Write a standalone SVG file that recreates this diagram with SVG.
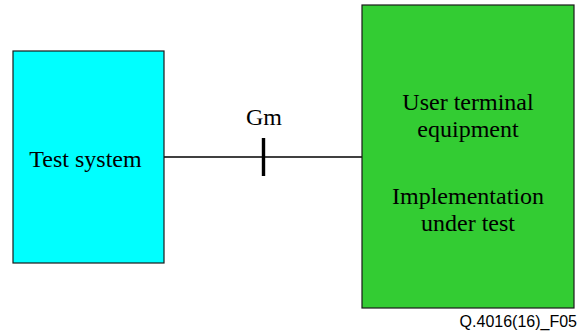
<svg xmlns="http://www.w3.org/2000/svg" width="578" height="335" viewBox="0 0 578 335">
  <style>
    .box { stroke: #1a1a1a; stroke-width: 1.2; }
    .label { font-family: 'Liberation Serif', 'DejaVu Serif', serif; font-size: 24px; fill: #000; text-anchor: middle; }
    .wire { stroke: #000; stroke-width: 1.3; fill: none; }
    .ref { font-family: 'Liberation Sans', Arial, sans-serif; font-size: 16px; fill: #000; text-anchor: end; }
  </style>
  <rect width="578" height="335" fill="#fff"/>

  <!-- connector between the two blocks, with the Gm interface tick -->
  <g id="connectors">
    <line class="wire" x1="164" y1="157" x2="362" y2="157"/>
    <line x1="263.5" y1="138" x2="263.5" y2="176" stroke="#000" stroke-width="3.4"/>
    <text class="label" x="264" y="125">Gm</text>
  </g>

  <g id="test-system">
    <rect class="box" x="13" y="51" width="151" height="212" fill="#00ffff"/>
    <text class="label" x="85.5" y="167">Test system</text>
  </g>

  <g id="user-terminal">
    <rect class="box" x="362" y="5" width="212" height="303" fill="#33cc33"/>
    <text class="label" x="468" y="110">User terminal</text>
    <text class="label" x="468" y="137">equipment</text>
    <text class="label" x="468" y="204">Implementation</text>
    <text class="label" x="468" y="231">under test</text>
  </g>

  <text class="ref" x="577" y="327">Q.4016(16)_F05</text>
</svg>
